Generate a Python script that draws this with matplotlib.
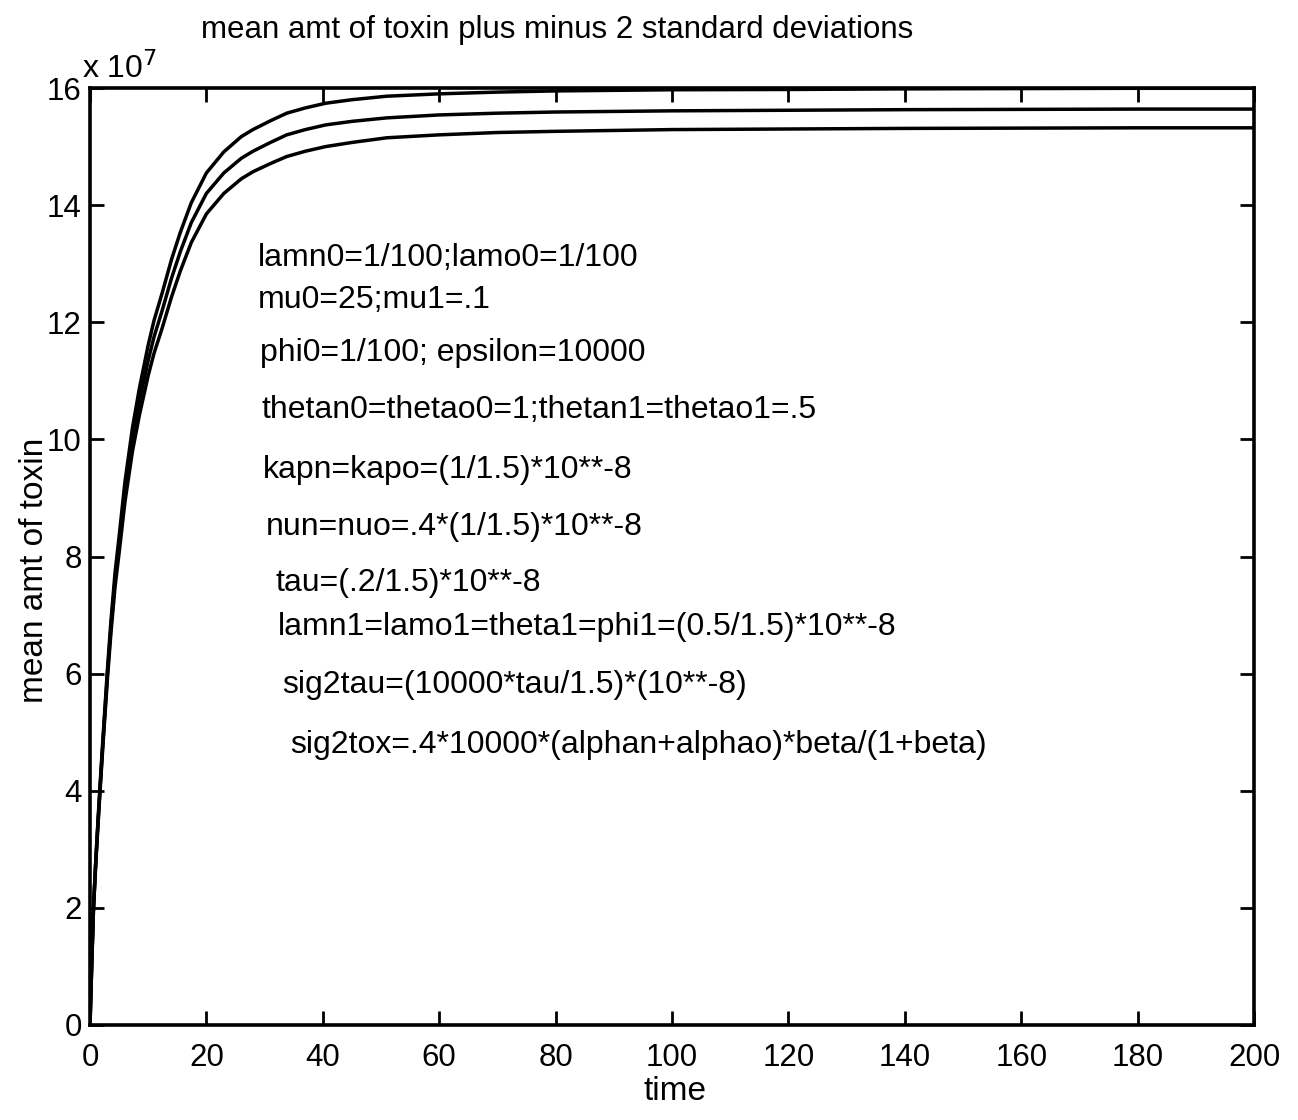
import numpy as np
import matplotlib
matplotlib.use("Agg")
import matplotlib.pyplot as plt

# time axis and the three curves (in units of 1e7)
t = [0, 0.3, 0.6, 1.0, 1.4, 1.7, 2.2, 3.0, 3.6, 4.3, 5, 6, 7.3, 8.5, 10, 11, 12.4, 14, 15.5,
     17.4, 20, 23, 26, 28, 31, 33.8, 37, 40.5, 45, 51, 60, 70, 80, 100, 120, 140, 160, 180, 200]
mean_amt = [0, 1.05, 2.0, 2.8, 3.5, 4.0, 4.8, 6.0, 6.8, 7.6, 8.2, 9.1, 10.0, 10.65, 11.35, 11.75,
            12.2, 12.75, 13.2, 13.7, 14.2, 14.55, 14.8, 14.92, 15.07, 15.2, 15.29, 15.37, 15.43,
            15.49, 15.54, 15.57, 15.59, 15.61, 15.62, 15.63, 15.635, 15.64, 15.64]
upper = [0, 1.06, 2.02, 2.83, 3.54, 4.05, 4.86, 6.08, 6.9, 7.72, 8.34, 9.27, 10.2, 10.88, 11.61,
         12.03, 12.5, 13.07, 13.53, 14.04, 14.55, 14.91, 15.17, 15.29, 15.44, 15.57, 15.66, 15.74,
         15.8, 15.86, 15.9, 15.93, 15.95, 15.97, 15.975, 15.985, 15.99, 15.995, 15.995]
lower = [0, 1.04, 1.98, 2.77, 3.46, 3.95, 4.74, 5.92, 6.7, 7.48, 8.06, 8.93, 9.8, 10.42, 11.09,
         11.47, 11.9, 12.43, 12.87, 13.36, 13.85, 14.2, 14.45, 14.57, 14.71, 14.83, 14.92, 15.0,
         15.07, 15.15, 15.2, 15.24, 15.26, 15.29, 15.3, 15.31, 15.315, 15.32, 15.32]

xticks = [0, 20, 40, 60, 80, 100, 120, 140, 160, 180, 200]
yticks = [0, 2, 4, 6, 8, 10, 12, 14, 16]

notes = [
    "lamn0=1/100;lamo0=1/100",
    "mu0=25;mu1=.1",
    "phi0=1/100; epsilon=10000",
    "thetan0=thetao0=1;thetan1=thetao1=.5",
    "kapn=kapo=(1/1.5)*10**-8",
    "nun=nuo=.4*(1/1.5)*10**-8",
    "tau=(.2/1.5)*10**-8",
    "lamn1=lamo1=theta1=phi1=(0.5/1.5)*10**-8",
    "sig2tau=(10000*tau/1.5)*(10**-8)",
    "sig2tox=.4*10000*(alphan+alphao)*beta/(1+beta)",
]
note_x = [258, 258, 260, 262, 263, 266, 276, 278, 282, 290]
note_y = [258, 300, 353, 410, 470, 527, 583, 627, 685, 745]

plt.rcParams['font.family'] = ['Liberation Sans', 'DejaVu Sans']

W, H = 1298, 1120
fig = plt.figure(figsize=(W / 100, H / 100), dpi=100)
ax = fig.add_axes([90 / W, 1 - 1025 / H, (1254 - 90) / W, (1025 - 88) / H])

for y in (upper, mean_amt, lower):
    ax.plot(t, y, color='black', lw=2.5, solid_joinstyle='round')

ax.set_xlim(0, 200)
ax.set_ylim(0, 16)
ax.set_xticks(xticks)
ax.set_yticks(yticks)
ax.tick_params(direction='in', length=10, width=2, labelsize=22.5,
               top=True, right=True)
ax.tick_params(axis='x', pad=13)
ax.tick_params(axis='y', pad=6)
for s in ax.spines.values():
    s.set_linewidth(2.6)

fig.text(675 / W, 1 - 1092 / H, "time", fontsize=24, ha='center', va='center')
fig.text(35 / W, 1 - 570 / H, "mean amt of toxin", fontsize=24, ha='center',
         va='center', rotation=90)

# exponent label sits above the top-left corner of the box
fig.text(82 / W, 1 - 78 / H, r"x 10$^{7}$", fontsize=23, va='baseline')
fig.text(557 / W, 1 - 30 / H, "mean amt of toxin plus minus 2 standard deviations",
         fontsize=22.5, ha='center', va='center')

for s, x, y in zip(notes, note_x, note_y):
    fig.text(x / W, 1 - y / H, s, fontsize=23, ha='left', va='center')

fig.savefig("out.png", dpi=100)
